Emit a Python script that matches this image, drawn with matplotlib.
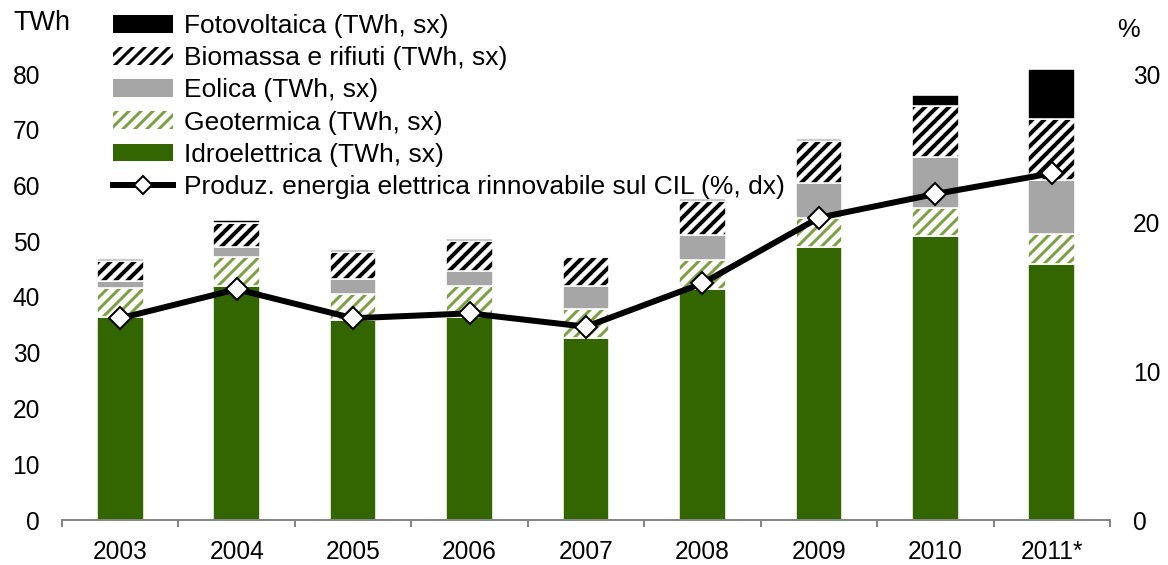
import numpy as np
import matplotlib
matplotlib.use("Agg")
import matplotlib.pyplot as plt
from matplotlib.lines import Line2D
from matplotlib.patches import Patch

plt.rcParams['font.family'] = ['Liberation Sans', 'DejaVu Sans']

# ---- data ----
years = ['2003', '2004', '2005', '2006', '2007', '2008', '2009', '2010', '2011*']
idro = [36.4, 42.0, 35.9, 36.5, 32.6, 41.4, 48.9, 50.9, 46.0]
geo = [5.2, 5.1, 4.6, 5.5, 5.2, 5.2, 5.2, 5.0, 5.3]
eolica = [1.3, 1.8, 2.8, 2.7, 4.2, 4.5, 6.4, 9.3, 9.7]
biomassa = [3.6, 4.4, 4.7, 5.3, 5.1, 6.1, 7.4, 9.0, 10.9]
foto = [0.4, 0.45, 0.4, 0.4, 0.3, 0.4, 0.5, 2.0, 9.0]
quota = [13.57, 15.52, 13.57, 13.90, 13.0, 15.92, 20.33, 21.93, 23.32]

left_ticks = [0, 10, 20, 30, 40, 50, 60, 70, 80]
right_ticks = [0, 10, 20, 30]

labels = ['Fotovoltaica (TWh, sx)', 'Biomassa e rifiuti (TWh, sx)', 'Eolica (TWh, sx)',
          'Geotermica (TWh, sx)', 'Idroelettrica (TWh, sx)',
          'Produz. energia elettrica rinnovabile sul CIL (%, dx)']

C_IDRO = '#336600'
C_GEO = '#7DA142'
C_EOL = '#A6A6A6'
C_BIO = '#000000'
C_FOTO = '#000000'

W, H, DPI = 1168, 565, 72
fig = plt.figure(figsize=(W / DPI, H / DPI), dpi=DPI)

ax_l, ax_r = 62, 1110
y0, ytop = 520, 29.4
ax = fig.add_axes([ax_l / W, (H - y0) / H, (ax_r - ax_l) / W, (y0 - ytop) / H])

x = np.arange(len(years))
bw = 0.40

idro_a = np.array(idro); geo_a = np.array(geo); eol_a = np.array(eolica)
bio_a = np.array(biomassa); foto_a = np.array(foto)
b1 = np.zeros(len(years))
b2 = b1 + idro_a
b3 = b2 + geo_a
b4 = b3 + eol_a
b5 = b4 + bio_a

def hbar(heights, bottom, fc, hatch=None, hcol=None, hlw=3.0):
    plt.rcParams['hatch.linewidth'] = hlw
    if hatch:
        bars = ax.bar(x, heights, bw, bottom=bottom, facecolor=fc, edgecolor=hcol,
                      linewidth=0, hatch=hatch)
        for p in bars:
            try:
                p.set_hatch_linewidth(hlw)
            except Exception:
                pass
    else:
        bars = ax.bar(x, heights, bw, bottom=bottom, facecolor=fc, linewidth=0)
    # white separator edges
    ax.bar(x, heights, bw, bottom=bottom, facecolor='none', edgecolor='white', linewidth=1.6)
    return bars

hbar(idro_a, b1, C_IDRO)
hbar(geo_a, b2, 'white', '//', C_GEO, 3.0)
hbar(eol_a, b3, C_EOL)
hbar(bio_a, b4, 'white', '//', C_BIO, 4.0)
hbar(foto_a, b5, C_FOTO)

ax.set_xlim(-0.5, len(years) - 0.5)
ax.set_ylim(0, 88)
ax.set_yticks(left_ticks)
ax.set_xticks(x)
ax.set_xticklabels(years)
ax.set_xticks(np.arange(-0.5, len(years), 1.0), minor=True)

for s in ['left', 'right', 'top']:
    ax.spines[s].set_visible(False)
ax.spines['bottom'].set_color('#868686')
ax.spines['bottom'].set_linewidth(2)
ax.tick_params(axis='x', which='major', length=0, pad=20, labelsize=24.5)
ax.tick_params(axis='x', which='minor', length=7, width=2, color='#868686', direction='out')
ax.tick_params(axis='y', length=0, pad=22, labelsize=24.5)

ax2 = ax.twinx()
ax2.set_ylim(0, 33)
ax2.set_yticks(right_ticks)
for s in ['left', 'right', 'top', 'bottom']:
    ax2.spines[s].set_visible(False)
ax2.tick_params(axis='y', length=0, pad=23, labelsize=24.5)
ax2.plot(x, quota, color='black', linewidth=6, marker='D', markersize=16,
         markerfacecolor='white', markeredgecolor='black', markeredgewidth=2, zorder=5,
         solid_joinstyle='round', solid_capstyle='butt')

fig.text(42 / W, 1 - 23 / H, 'TWh', ha='center', va='center', fontsize=27)
fig.text(1128 / W, 1 - 30 / H, '%', ha='center', va='center', fontsize=25.5)

plt.rcParams['hatch.linewidth'] = 4.0
p_bio = Patch(facecolor='white', edgecolor=C_BIO, hatch='//', linewidth=0)
plt.rcParams['hatch.linewidth'] = 3.0
p_geo = Patch(facecolor='white', edgecolor=C_GEO, hatch='//', linewidth=0)
handles = [
    Patch(facecolor=C_FOTO, linewidth=0),
    p_bio,
    Patch(facecolor=C_EOL, linewidth=0),
    p_geo,
    Patch(facecolor=C_IDRO, linewidth=0),
    Line2D([], [], color='black', linewidth=6, marker='D', markersize=13,
           markerfacecolor='white', markeredgecolor='black', markeredgewidth=2),
]
leg = fig.legend(handles, labels, loc='upper left', bbox_to_anchor=(113 / W, 1 - 14 / H),
                 frameon=False, fontsize=26.4, borderpad=0, borderaxespad=0,
                 labelspacing=0.31, handlelength=2.27, handleheight=0.66, handletextpad=0.42)

fig.savefig('out.png', dpi=DPI)
